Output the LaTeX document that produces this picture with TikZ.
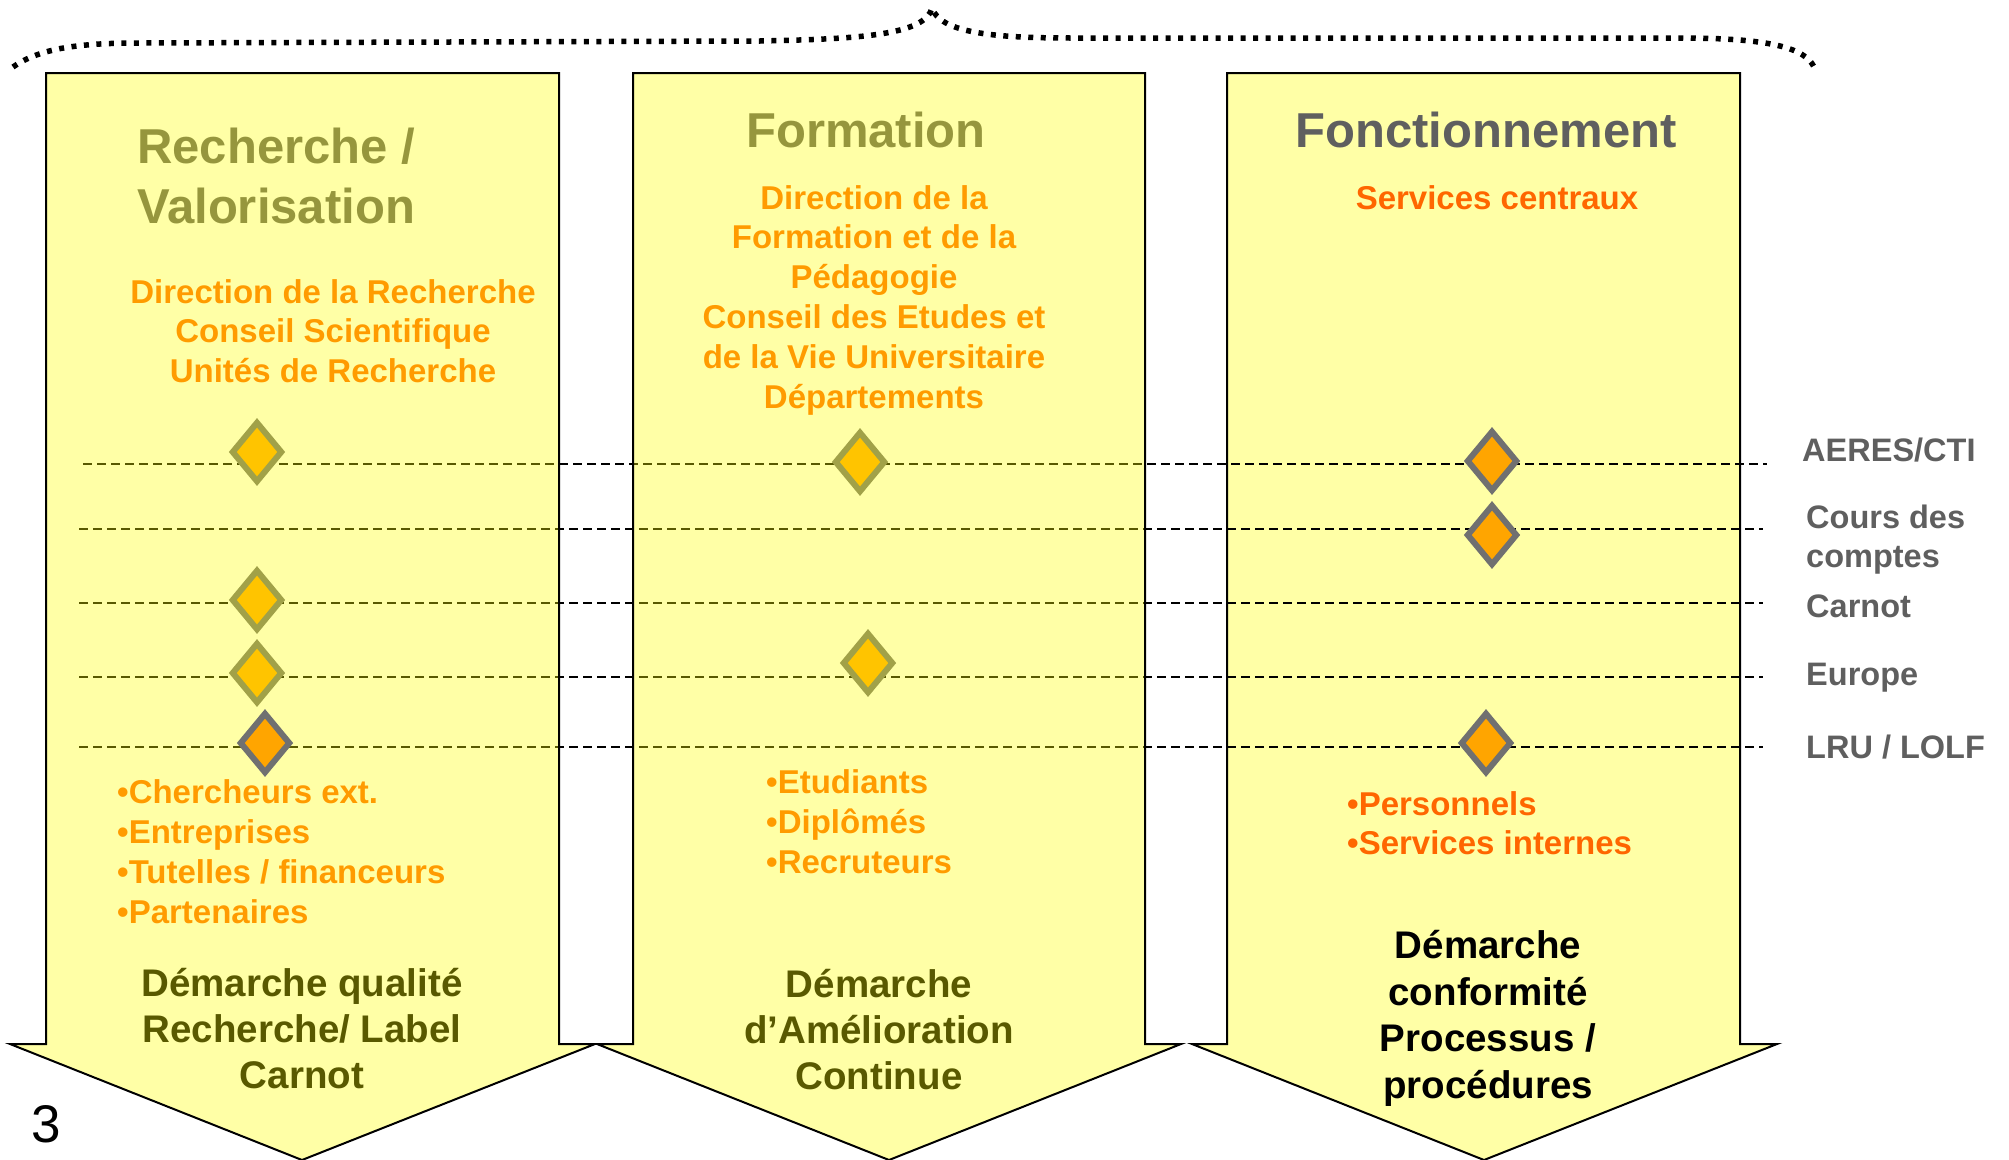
\documentclass[tikz,border=0pt]{standalone}
\usepackage{fontspec}
\setmainfont{Liberation Sans}
\usetikzlibrary{shapes.geometric}
\definecolor{arrowyel}{RGB}{255,255,0}
\definecolor{titlegrey}{RGB}{95,95,95}
\definecolor{orgorange}{RGB}{255,102,0}
\definecolor{dmdfill}{RGB}{255,165,0}
\definecolor{dmdline}{RGB}{112,112,112}
\definecolor{labelgrey}{RGB}{95,95,95}
\tikzset{
  bigarrow/.style={draw=black, line width=2pt, fill=arrowyel, fill opacity=0.35, draw opacity=1, line join=miter},
  refline/.style={draw=black, line width=2.2pt, dash pattern=on 9pt off 5pt},
  dmd/.style={diamond, draw=dmdline, fill=dmdfill, line width=6pt, minimum width=51pt, minimum height=61pt, inner sep=0pt},
  ttl/.style={text=titlegrey, font=\fontsize{49}{60}\selectfont\bfseries, inner sep=0pt, anchor=base},
  org/.style={text=orgorange, font=\fontsize{33}{39.5}\selectfont\bfseries, inner sep=0pt, anchor=base, align=center},
  bul/.style={text=orgorange, font=\fontsize{33}{39.7}\selectfont\bfseries, inner sep=0pt, anchor=base west, align=left},
  bot/.style={text=black, font=\fontsize{38.5}{46}\selectfont\bfseries, inner sep=0pt, anchor=base, align=center},
  lbl/.style={text=labelgrey, font=\fontsize{32.5}{39}\selectfont\bfseries, inner sep=0pt, anchor=base west, align=left},
  brace/.style={draw=black, line width=5.5pt, dash pattern=on 5pt off 7.5pt},
}
\begin{document}
\begin{tikzpicture}[x=1pt,y=-1pt]
\useasboundingbox (0,0) rectangle (2009,1159);
% third arrow (behind its content)
\path[bigarrow] (1227,73) -- (1740,73) -- (1740,1044) -- (1777,1044) -- (1484,1160) -- (1192,1044) -- (1227,1044) -- cycle;
% reference lines
\coordinate (a1) at (83,464);  \coordinate (a2) at (1767,464);
\coordinate (b1) at (79,529);  \coordinate (b2) at (1763,529);
\coordinate (c1) at (79,603);  \coordinate (c2) at (1763,603);
\coordinate (d1) at (79,677);  \coordinate (d2) at (1763,677);
\coordinate (e1) at (79,747);  \coordinate (e2) at (1763,747);
\draw[refline] (a1) -- (a2);
\draw[refline] (b1) -- (b2);
\draw[refline] (c1) -- (c2);
\draw[refline] (d1) -- (d2);
\draw[refline] (e1) -- (e2);
% diamonds
\node[dmd] (r1) at (257,452) {};
\node[dmd] (r2) at (257,600) {};
\node[dmd] (r3) at (257,673) {};
\node[dmd] (f1) at (860,462) {};
\node[dmd] (f2) at (868,663) {};
\node[dmd] (o1) at (1492,461) {};
\node[dmd] (o2) at (1492,535) {};
\node[dmd] (o3) at (1486,743) {};
% column 1 texts (multi-line nodes: base = last line)
\node[ttl, anchor=base west, align=left] (t1) at (137,223) {Recherche /\\Valorisation};
\node[org] (g1) at (333,382) {Direction de la Recherche\\Conseil Scientifique\\Unités de Recherche};
\node[bul] (u1) at (117,923) {•Chercheurs ext.\\•Entreprises\\•Tutelles / financeurs\\•Partenaires};
\node[bot] (m1) at (302,1088) {Démarche qualité\\Recherche/ Label\\Carnot};
% column 2 texts
\node[ttl] (t2) at (866,147) {Formation};
\node[org, font=\fontsize{33}{39.8}\selectfont\bfseries] (g2) at (874,408) {Direction de la\\Formation et de la\\Pédagogie\\Conseil des Etudes et\\de la Vie Universitaire\\Départements};
\node[bul] (u2) at (766,873) {•Etudiants\\•Diplômés\\•Recruteurs};
\node[bot] (m2) at (879,1089) {Démarche\\d’Amélioration\\Continue};
% column 3 texts
\node[ttl] (t3) at (1486,147) {Fonctionnement};
\node[org] (g3) at (1497,209) {Services centraux};
\node[bul, font=\fontsize{33}{38.5}\selectfont\bfseries] (u3) at (1347,854) {•Personnels\\•Services internes};
\node[bot, font=\fontsize{38.5}{46.5}\selectfont\bfseries] (m3) at (1488,1098) {Démarche\\conformité\\Processus /\\procédures};
% first two arrows (semi-transparent, over their content)
\path[bigarrow] (46,73) -- (559,73) -- (559,1044) -- (595,1044) -- (302,1160) -- (10,1044) -- (46,1044) -- cycle;
\path[bigarrow] (633,73) -- (1145,73) -- (1145,1044) -- (1181,1044) -- (889,1160) -- (597,1044) -- (633,1044) -- cycle;
\node[dmd] (r4) at (265,743) {};
% right labels
\node[lbl] (la) at (1802,461) {AERES/CTI};
\node[lbl] (lb) at (1806,567) {Cours des\\comptes};
\node[lbl] (lc) at (1806,617) {Carnot};
\node[lbl] (ld) at (1806,685) {Europe};
\node[lbl] (le) at (1806,758) {LRU / LOLF};
% page number
\node[font=\fontsize{53}{60}\selectfont, anchor=base, inner sep=0pt] (pg) at (46,1142) {3};
% dotted brace
\draw[brace] (13,67) .. controls (40,48) and (80,43) .. (140,43) -- (760,41) .. controls (860,39) and (925,35) .. (932,8) .. controls (940,32) and (990,38) .. (1070,38) -- (1680,38) .. controls (1770,38) and (1805,48) .. (1814,67);
\end{tikzpicture}
\end{document}
